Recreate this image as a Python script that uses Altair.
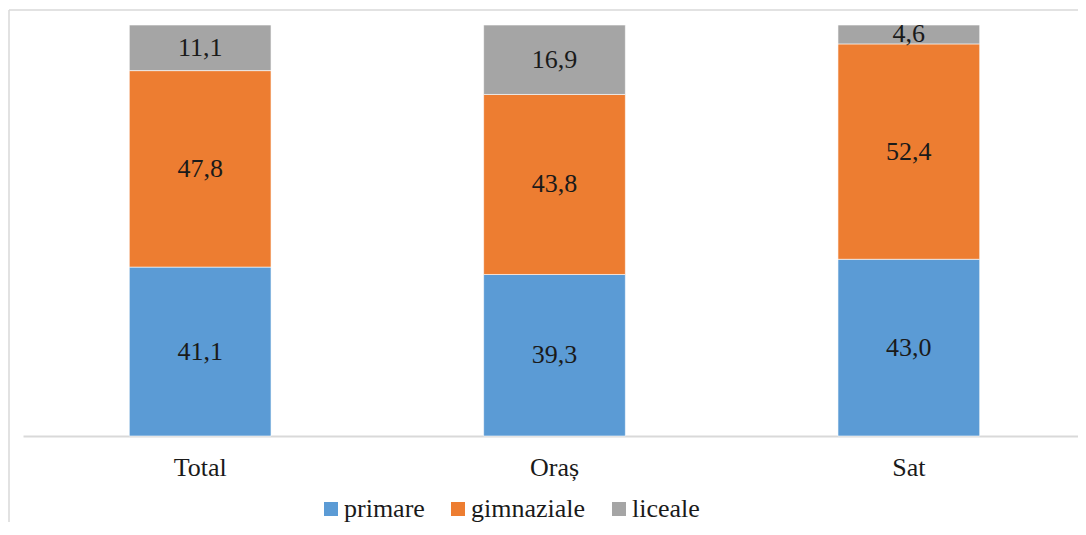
import altair as alt
import pandas as pd

categories = ["Total", "Oraș", "Sat"]
levels = ["primare", "gimnaziale", "liceale"]
primare = [41.1, 39.3, 43.0]
gimnaziale = [47.8, 43.8, 52.4]
liceale = [11.1, 16.9, 4.6]
colors = ["#5B9BD5", "#ED7D31", "#A5A5A5"]

rows = []
for i, c in enumerate(categories):
    for j, (lev, vals) in enumerate(zip(levels, [primare, gimnaziale, liceale])):
        rows.append({"cat": c, "level": lev, "idx": j, "v": vals[i]})
df = pd.DataFrame(rows)

FONT = "Liberation Serif"
W, H = 1055, 411
XR = 1063

base = alt.Chart(df).transform_stack(
    stack="v", groupby=["cat"], as_=["v0", "v1"], sort=[alt.SortField("idx", order="ascending")]
).transform_calculate(
    mid="(datum.v0 + datum.v1) / 2",
    lab="replace(format(datum.v, '.1f'), '.', ',')",
)

xscale = alt.Scale(paddingInner=0.6, paddingOuter=0.3, range=[0, XR])
xaxis = alt.Axis(
    labelAngle=0,
    ticks=False,
    labelFont=FONT,
    labelFontSize=26,
    labelColor="#1a1a1a",
    labelPadding=18,
    domainColor="#d9d9d9",
    domainWidth=2,
    grid=False,
)
yscale = alt.Scale(domain=[0, 100])

bars = base.mark_bar(stroke="white", strokeWidth=0.6).encode(
    x=alt.X("cat:N", sort=categories, title=None, scale=xscale, axis=xaxis),
    y=alt.Y("v0:Q", scale=yscale, axis=None),
    y2="v1:Q",
    color=alt.Color(
        "level:N",
        sort=levels,
        scale=alt.Scale(domain=levels, range=colors),
        legend=alt.Legend(
            title=None,
            orient="none",
            legendX=295,
            legendY=471,
            direction="horizontal",
            symbolType="square",
            symbolSize=196,
            symbolStrokeWidth=0,
            labelOffset=0,
            columnPadding=20,
            labelFont=FONT,
            labelFontSize=26,
            labelColor="#1a1a1a",
            padding=0,
        ),
    ),
)

text = base.mark_text(font=FONT, fontSize=26, color="#1a1a1a", baseline="middle").encode(
    x=alt.X("cat:N", sort=categories, title=None, scale=xscale, axis=xaxis),
    y=alt.Y("mid:Q", scale=yscale, axis=None),
    text="lab:N",
)

border_df = pd.DataFrame({"k": [0]})
top_border = alt.Chart(border_df).mark_rule(color="#d9d9d9", strokeWidth=1.5).encode(
    x=alt.value(-14), x2=alt.value(1200), y=alt.value(-15)
)
left_border = alt.Chart(border_df).mark_rule(color="#d9d9d9", strokeWidth=1.5).encode(
    x=alt.value(-14), y=alt.value(-15), y2=alt.value(700)
)

chart = alt.layer(bars, text, top_border, left_border).properties(
    width=W,
    height=H,
    padding={"left": 15, "top": 17, "right": 0, "bottom": 86},
    autosize=alt.AutoSizeParams(type="none"),
).configure_view(
    stroke="#ffffff", strokeWidth=0, strokeOpacity=0
).configure_axisY(
    domain=False, grid=False, ticks=False, labels=False
).configure(
    background="white", style={"cell": {"stroke": "transparent", "strokeWidth": 0}}
)

chart.save("out.html", embed_options={"renderer": "svg", "actions": False})
